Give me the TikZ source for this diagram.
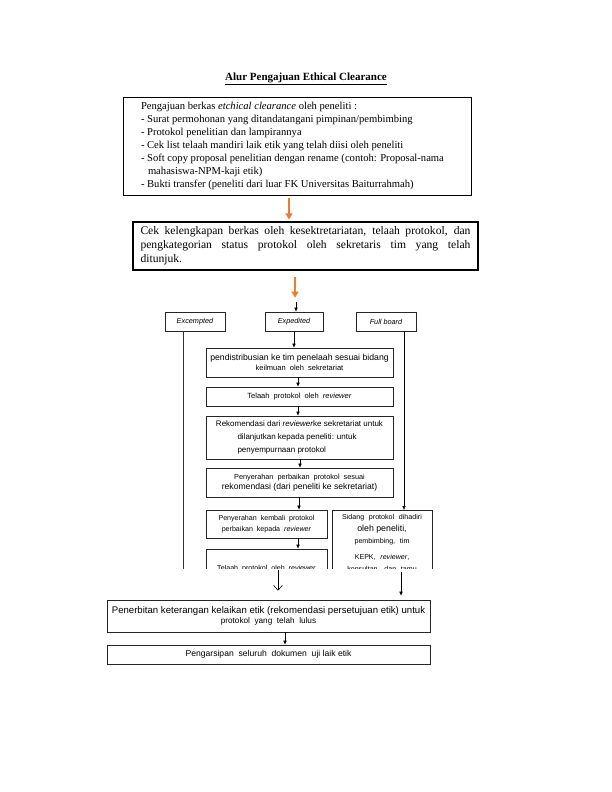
\documentclass[tikz,border=0pt]{standalone}
\usepackage{fontspec}
\setmainfont{Liberation Serif}
\setsansfont{Liberation Sans}
\usetikzlibrary{arrows.meta}
\definecolor{arroworange}{RGB}{237,125,49}

\begin{document}
\begin{tikzpicture}[
    x=1pt, y=-1pt,
    >={Latex[length=4pt,width=3.5pt]},
    mainbox/.style={draw=black, line width=0.8pt, inner sep=0pt},
    flowbox/.style={draw=black!85, line width=0.6pt, inner sep=0pt, align=center,
        font=\sffamily\fontsize{7}{9.5}\selectfont},
    catbox/.style={flowbox, minimum width=60pt, minimum height=19pt,
        font=\sffamily\itshape\fontsize{7.3}{8}\selectfont},
    edge/.style={->, line width=0.5pt, black},
    orangearrow/.style={-{Triangle[length=6pt,width=7pt]}, line width=2pt, arroworange}
]
\useasboundingbox (0,0) rectangle (612,792);

% ===== Title =====
\node[font=\bfseries\fontsize{11}{13}\selectfont] (title) at (306,79) {\underline{Alur Pengajuan Ethical Clearance}};

% ===== Submission =====
\node[mainbox, minimum width=348pt, minimum height=98pt] (berkas) at (297,146) {%
\hspace*{10pt}\begin{minipage}{322pt}\fontsize{10.6}{13}\selectfont
Pengajuan berkas \textit{etchical clearance} oleh peneliti :\\
- Surat permohonan yang ditandatangani pimpinan/pembimbing\\
- Protokol penelitian dan lampirannya\\
- Cek list telaah mandiri laik etik yang telah diisi oleh peneliti\\
- Soft copy proposal penelitian dengan rename (contoh: Proposal-nama\\
\hspace*{7pt}mahasiswa-NPM-kaji etik)\\
- Bukti transfer (peneliti dari luar FK Universitas Baiturrahmah)
\end{minipage}};

\node[mainbox, line width=1.1pt, minimum width=345pt, minimum height=48pt] (cek) at (305.5,246) {%
\begin{minipage}{330pt}\fontsize{11.6}{14}\selectfont\hyphenpenalty=10000
Cek kelengkapan berkas oleh kesektretariatan, telaah protokol, dan\linebreak
pengkategorian status protokol oleh sekretaris tim yang telah\linebreak
ditunjuk.
\end{minipage}};

% ===== Categories =====
\node[catbox] (excempted) at (195,321.5) {Excempted};
\node[catbox, minimum width=58pt] (expedited) at (294,321.5) {Expedited};
\node[catbox] (fullboard) at (386,321.5) {Full board};

% ===== Expedited review chain =====
\node[flowbox, minimum width=187pt, minimum height=29pt] (distribusi) at (299.5,362.5)
    {{\fontsize{8.7}{11.5}\selectfont pendistribusian ke tim penelaah sesuai bidang}\\
     {\fontsize{7.5}{8}\selectfont keilmuan\ \ oleh\ \ sekretariat}};
\node[flowbox, minimum width=187pt, minimum height=19pt, font=\sffamily\fontsize{7.5}{8}\selectfont] (telaah) at (299.5,396.5)
    {Telaah\ \ protokol\ \ oleh\ \ \textit{reviewer}};
\node[flowbox, minimum width=187pt, minimum height=43pt, font=\sffamily\fontsize{8}{13}\selectfont] (rekomendasi) at (299.5,437.5)
    {Rekomendasi dari \textit{reviewer}ke sekretariat untuk\\
     \makebox[124pt][l]{dilanjutkan kepada peneliti: untuk}\\
     \makebox[124pt][l]{penyempurnaan protokol}};
\node[flowbox, minimum width=187pt, minimum height=29pt] (perbaikan) at (299.5,482.5)
    {{\fontsize{7.3}{10.5}\selectfont Penyerahan\ \ perbaikan\ \ protokol\ \ sesuai}\\
     {\fontsize{8.6}{9}\selectfont rekomendasi (dari peneliti ke sekretariat)}};
\node[flowbox, minimum width=121pt, minimum height=28pt, font=\sffamily\fontsize{7.1}{11.5}\selectfont] (kembali) at (266.5,524)
    {Penyerahan\ \ kembali\ \ protokol\\ perbaikan\ \ kepada\ \ \textit{reviewer}};

% clipped lower part
\begin{scope}
\clip (0,0) rectangle (612,568);
\node[flowbox, minimum width=121pt, minimum height=40pt, font=\sffamily\fontsize{7.1}{8}\selectfont] (telaahdua) at (266.5,569)
    {Telaah\ \ protokol\ \ oleh\ \ \textit{reviewer}};
\node[flowbox, text width=100pt, inner ysep=4.5pt, anchor=north, font=\sffamily\fontsize{7.1}{12}\selectfont] (sidang) at (382,510)
    {Sidang\ \ protokol\ \ dihadiri\\
     {\fontsize{8.8}{12}\selectfont oleh peneliti,}\\
     pembimbing,\ \ tim\\[4pt]
     KEPK,\ \ \textit{reviewer},\\
     konsultan,\ \ dan\ \ tamu\\ \ \\ \ };
\coordinate (excend) at (183,600);
\draw[line width=0.5pt, black!80] (excempted.south -| excend) -- (excend);
\end{scope}

% ===== Outcome =====
\node[flowbox, minimum width=323pt, minimum height=32pt] (penerbitan) at (268.5,616)
    {{\fontsize{9.6}{12}\selectfont Penerbitan keterangan kelaikan etik (rekomendasi persetujuan etik) untuk}\\
     {\fontsize{8.2}{9}\selectfont protokol\ \ yang\ \ telah\ \ lulus}};
\node[flowbox, minimum width=323pt, minimum height=19pt, font=\sffamily\fontsize{8.6}{9}\selectfont] (arsip) at (268.5,654.5)
    {Pengarsipan\ \ seluruh\ \ dokumen\ \ uji\ laik\ etik};

% ===== Connectors =====
\coordinate (oa) at (289,0);
\coordinate (ob) at (295,0);
\coordinate (ea) at (296,302);
\coordinate (ax) at (298,0);
\coordinate (fx) at (404,0);
\coordinate (bl) at (278,570);
\coordinate (br) at (401,572);
\coordinate (az) at (285,0);

\draw[orangearrow, shorten <=3pt, shorten >=2pt] (berkas.south -| oa) -- (cek.north -| oa);
\draw[orangearrow, shorten <=6pt, shorten >=14pt] (cek.south -| ob) -- (expedited.north -| ob);
\draw[edge] (ea) -- (expedited.north -| ea);
\draw[edge] (expedited.south) -- (expedited.south |- distribusi.north);
\draw[edge] (distribusi.south -| ax) -- (telaah.north -| ax);
\draw[edge] (telaah.south -| ax) -- (rekomendasi.north -| ax);
\draw[edge] ([xshift=2pt]rekomendasi.south -| ax) -- ([xshift=2pt]perbaikan.north -| ax);
\draw[edge] ([xshift=1pt]perbaikan.south -| ax) -- ([xshift=1pt]kembali.north -| ax);
\draw[edge] (kembali.south -| ax) -- (telaahdua.north -| ax);
\draw[edge, line width=0.4pt] (fullboard.south -| fx) -- (sidang.north -| fx);
\draw[-{Straight Barb[length=5pt,width=9pt]}, line width=0.6pt, shorten >=9pt] (bl) -- (bl |- penerbitan.north);
\draw[edge, shorten >=4pt] (br) -- (br |- penerbitan.north);
\draw[edge] (penerbitan.south -| az) -- (arsip.north -| az);

\end{tikzpicture}
\end{document}
